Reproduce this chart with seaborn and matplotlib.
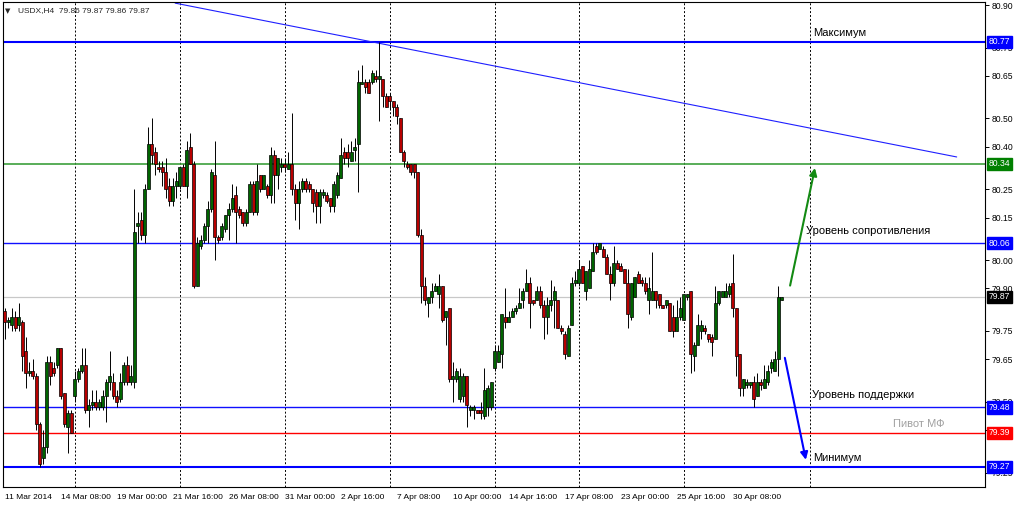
import numpy as np
import pandas as pd
import matplotlib
matplotlib.use("Agg")
import matplotlib.pyplot as plt
import matplotlib.transforms as mtransforms
import seaborn as sns

# H4 candles of USDX (open, high, low, close)
opens = [79.82, 79.78, 79.77, 79.80, 79.77, 79.78, 79.68, 79.60, 79.61, 79.59,
         79.42, 79.30, 79.34, 79.64, 79.62, 79.63, 79.69, 79.53, 79.41, 79.46,
         79.52, 79.58, 79.61, 79.63, 79.47, 79.49, 79.50, 79.48, 79.48, 79.52,
         79.57, 79.57, 79.52, 79.51, 79.57, 79.63, 79.57, 79.57, 80.12, 80.14,
         80.09, 80.25, 80.41, 80.38, 80.33, 80.33, 80.31, 80.26, 80.21, 80.26,
         80.26, 80.33, 80.26, 80.40, 80.34, 79.91, 80.05, 80.07, 80.12, 80.18,
         80.30, 80.08, 80.08, 80.11, 80.16, 80.18, 80.23, 80.18, 80.17, 80.13,
         80.17, 80.27, 80.17, 80.30, 80.25, 80.26, 80.23, 80.37, 80.30, 80.33,
         80.34, 80.32, 80.34, 80.25, 80.20, 80.25, 80.28, 80.27, 80.25, 80.24,
         80.19, 80.23, 80.23, 80.22, 80.19, 80.23, 80.29, 80.38, 80.38, 80.35,
         80.39, 80.41, 80.62, 80.63, 80.63, 80.63, 80.65, 80.64, 80.64, 80.58,
         80.58, 80.56, 80.54, 80.50, 80.38, 80.34, 80.34, 80.34, 80.31, 80.09,
         79.91, 79.85, 79.87, 79.89, 79.88, 79.91, 79.80, 79.83, 79.58, 79.58,
         79.51, 79.52, 79.59, 79.47, 79.47, 79.47, 79.47, 79.45, 79.48, 79.48,
         79.62, 79.64, 79.67, 79.80, 79.78, 79.80, 79.82, 79.83, 79.86, 79.89,
         79.92, 79.86, 79.86, 79.89, 79.84, 79.80, 79.84, 79.86, 79.86, 79.76,
         79.74, 79.66, 79.77, 79.92, 79.92, 79.98, 79.89, 79.90, 79.96, 80.05,
         80.04, 80.04, 80.01, 79.95, 79.92, 79.99, 79.98, 79.97, 79.92, 79.80,
         79.87, 79.95, 79.93, 79.92, 79.86, 79.86, 79.89, 79.88, 79.84, 79.84,
         79.85, 79.80, 79.75, 79.80, 79.79, 79.87, 79.89, 79.66, 79.70, 79.75,
         79.76, 79.74, 79.73, 79.72, 79.85, 79.87, 79.87, 79.88, 79.92, 79.83,
         79.67, 79.55, 79.56, 79.56, 79.57, 79.52, 79.57, 79.55, 79.57, 79.62,
         79.61, 79.65, 79.86]
highs = [79.83, 79.80, 79.83, 79.82, 79.85, 79.79, 79.73, 79.64, 79.65, 79.60,
         79.43, 79.40, 79.66, 79.66, 79.64, 79.69, 79.69, 79.53, 79.47, 79.47,
         79.61, 79.62, 79.69, 79.69, 79.51, 79.54, 79.54, 79.51, 79.54, 79.58,
         79.68, 79.60, 79.54, 79.60, 79.64, 79.66, 79.63, 80.25, 80.17, 80.17,
         80.27, 80.47, 80.50, 80.40, 80.35, 80.35, 80.36, 80.29, 80.29, 80.31,
         80.33, 80.34, 80.42, 80.45, 80.35, 80.08, 80.09, 80.13, 80.21, 80.32,
         80.42, 80.09, 80.13, 80.16, 80.20, 80.27, 80.26, 80.19, 80.17, 80.18,
         80.28, 80.28, 80.34, 80.30, 80.30, 80.27, 80.40, 80.39, 80.36, 80.36,
         80.36, 80.38, 80.52, 80.27, 80.28, 80.29, 80.29, 80.28, 80.25, 80.25,
         80.25, 80.25, 80.24, 80.22, 80.28, 80.31, 80.43, 80.40, 80.41, 80.42,
         80.43, 80.67, 80.69, 80.64, 80.64, 80.67, 80.67, 80.77, 80.64, 80.59,
         80.59, 80.56, 80.55, 80.50, 80.39, 80.35, 80.34, 80.34, 80.31, 80.11,
         79.94, 79.87, 79.92, 79.92, 79.95, 79.91, 79.82, 79.83, 79.64, 79.62,
         79.62, 79.60, 79.59, 79.49, 79.49, 79.47, 79.50, 79.62, 79.56, 79.57,
         79.70, 79.70, 79.81, 79.90, 79.82, 79.83, 79.84, 79.90, 79.90, 79.97,
         79.94, 79.86, 79.91, 79.91, 79.86, 79.87, 79.93, 79.91, 79.86, 79.77,
         79.75, 79.77, 79.94, 79.96, 80.00, 79.98, 79.96, 80.00, 80.06, 80.06,
         80.06, 80.05, 80.02, 79.98, 80.05, 80.00, 79.99, 79.97, 79.97, 79.92,
         79.94, 79.96, 79.94, 79.94, 79.94, 80.03, 79.89, 79.88, 79.84, 79.86,
         79.85, 79.84, 79.86, 79.87, 79.88, 79.88, 79.89, 79.71, 79.81, 79.79,
         79.77, 79.74, 79.74, 79.91, 79.89, 79.89, 79.92, 79.92, 80.02, 79.83,
         79.67, 79.58, 79.58, 79.57, 79.59, 79.60, 79.58, 79.63, 79.63, 79.65,
         79.68, 79.91, 79.87]
lows = [79.72, 79.76, 79.75, 79.75, 79.75, 79.61, 79.55, 79.59, 79.58, 79.40,
        79.27, 79.28, 79.32, 79.56, 79.59, 79.62, 79.51, 79.41, 79.32, 79.39,
        79.50, 79.57, 79.60, 79.46, 79.41, 79.47, 79.47, 79.47, 79.47, 79.43,
        79.54, 79.51, 79.48, 79.50, 79.56, 79.56, 79.56, 79.55, 80.06, 80.07,
        80.06, 80.25, 80.34, 80.30, 80.31, 80.26, 80.22, 80.19, 80.19, 80.22,
        80.25, 80.26, 80.22, 80.34, 79.90, 79.91, 80.04, 80.06, 80.06, 80.17,
        80.00, 80.06, 80.07, 80.10, 80.07, 80.17, 80.06, 80.15, 80.12, 80.12,
        80.17, 80.16, 80.16, 80.24, 80.25, 80.22, 80.20, 80.20, 80.25, 80.31,
        80.31, 80.32, 80.23, 80.14, 80.11, 80.24, 80.24, 80.24, 80.17, 80.13,
        80.13, 80.22, 80.20, 80.17, 80.17, 80.22, 80.29, 80.34, 80.33, 80.35,
        80.35, 80.24, 80.62, 80.59, 80.59, 80.62, 80.63, 80.49, 80.54, 80.54,
        80.53, 80.51, 80.48, 80.38, 80.33, 80.32, 80.30, 80.29, 80.08, 79.85,
        79.84, 79.80, 79.85, 79.89, 79.83, 79.78, 79.70, 79.57, 79.50, 79.57,
        79.50, 79.50, 79.41, 79.45, 79.44, 79.46, 79.44, 79.44, 79.45, 79.47,
        79.61, 79.64, 79.62, 79.76, 79.78, 79.80, 79.81, 79.83, 79.83, 79.89,
        79.76, 79.84, 79.86, 79.83, 79.72, 79.74, 79.82, 79.76, 79.76, 79.74,
        79.65, 79.66, 79.77, 79.91, 79.91, 79.92, 79.86, 79.90, 79.96, 80.02,
        80.04, 80.01, 79.95, 79.86, 79.91, 79.97, 79.96, 79.92, 79.76, 79.79,
        79.87, 79.92, 79.91, 79.88, 79.81, 79.86, 79.83, 79.83, 79.83, 79.83,
        79.75, 79.73, 79.75, 79.79, 79.79, 79.86, 79.60, 79.61, 79.70, 79.72,
        79.74, 79.71, 79.66, 79.72, 79.84, 79.87, 79.87, 79.87, 79.80, 79.59,
        79.52, 79.52, 79.55, 79.55, 79.48, 79.52, 79.54, 79.55, 79.56, 79.60,
        79.61, 79.59, 79.86]
closes = [79.78, 79.79, 79.80, 79.76, 79.80, 79.66, 79.60, 79.61, 79.59, 79.42,
          79.28, 79.34, 79.64, 79.59, 79.60, 79.69, 79.52, 79.42, 79.46, 79.39,
          79.58, 79.61, 79.63, 79.47, 79.49, 79.50, 79.48, 79.50, 79.52, 79.57,
          79.59, 79.52, 79.50, 79.57, 79.63, 79.57, 79.59, 80.10, 80.13, 80.09,
          80.25, 80.41, 80.37, 80.34, 80.32, 80.31, 80.25, 80.21, 80.26, 80.28,
          80.33, 80.26, 80.39, 80.34, 79.91, 80.06, 80.07, 80.12, 80.18, 80.31,
          80.08, 80.07, 80.12, 80.16, 80.18, 80.22, 80.17, 80.16, 80.13, 80.17,
          80.27, 80.17, 80.28, 80.25, 80.30, 80.23, 80.37, 80.30, 80.36, 80.34,
          80.33, 80.34, 80.25, 80.20, 80.25, 80.28, 80.25, 80.25, 80.20, 80.19,
          80.24, 80.24, 80.21, 80.19, 80.27, 80.30, 80.37, 80.36, 80.36, 80.38,
          80.40, 80.63, 80.63, 80.61, 80.59, 80.66, 80.64, 80.65, 80.58, 80.54,
          80.56, 80.54, 80.51, 80.38, 80.35, 80.33, 80.31, 80.31, 80.09, 79.91,
          79.86, 79.87, 79.89, 79.91, 79.91, 79.79, 79.82, 79.58, 79.59, 79.61,
          79.59, 79.59, 79.49, 79.48, 79.48, 79.46, 79.46, 79.54, 79.55, 79.57,
          79.68, 79.68, 79.81, 79.78, 79.80, 79.82, 79.83, 79.85, 79.89, 79.92,
          79.85, 79.85, 79.89, 79.84, 79.80, 79.84, 79.86, 79.89, 79.76, 79.75,
          79.67, 79.76, 79.92, 79.93, 79.97, 79.92, 79.96, 79.97, 80.03, 80.03,
          80.06, 80.01, 79.95, 79.92, 79.99, 79.97, 79.96, 79.92, 79.81, 79.92,
          79.94, 79.92, 79.92, 79.89, 79.90, 79.89, 79.86, 79.84, 79.83, 79.86,
          79.75, 79.75, 79.80, 79.83, 79.88, 79.88, 79.67, 79.70, 79.77, 79.77,
          79.75, 79.72, 79.71, 79.85, 79.89, 79.89, 79.89, 79.91, 79.83, 79.66,
          79.55, 79.58, 79.57, 79.57, 79.51, 79.57, 79.56, 79.58, 79.61, 79.64,
          79.65, 79.87, 79.87]

# time axis labels (one every 16 bars) and weekly dotted separators
time_labels = ['11 Mar 2014', '14 Mar 08:00', '19 Mar 00:00', '21 Mar 16:00',
               '26 Mar 08:00', '31 Mar 00:00', '2 Apr 16:00', '7 Apr 08:00',
               '10 Apr 00:00', '14 Apr 16:00', '17 Apr 08:00', '23 Apr 00:00',
               '25 Apr 16:00', '30 Apr 08:00']
time_ticks = list(range(0, 16 * len(time_labels), 16))
week_bars = [20, 50, 80, 110, 140, 164, 194, 230]

price_ticks = [80.90, 80.75, 80.65, 80.50, 80.40, 80.25, 80.15, 80.00,
               79.90, 79.75, 79.65, 79.50, 79.40, 79.25]

# horizontal levels drawn on the chart
level_prices = [80.77, 80.34, 80.06, 79.87, 79.48, 79.39, 79.27]
level_colors = ['#0000ff', '#3c9f3c', '#1010ff', '#c8c8c8', '#1010ff', '#ff0000', '#0000ff']
level_widths = [1.5, 1.2, 1.0, 0.9, 1.0, 1.0, 1.5]
tag_colors = ['#0000ff', '#008000', '#0000ff', '#000000', '#0000ff', '#ff0000', '#0000ff']

# trend line through the top
trend_bars = [48.7, 272.0]
trend_prices = [80.907, 80.364]

# arrows (start bar, start price, end bar, end price)
arrow_up = [224.4, 79.91, 231.5, 80.325]
arrow_down = [222.9, 79.655, 228.9, 79.295]

notes = ['Максимум', 'Уровень сопротивления', 'Уровень поддержки', 'Пивот МФ', 'Минимум']
note_bars = [230.9, 228.9, 230.7, 253.8, 230.9]
note_prices = [80.80, 80.103, 79.524, 79.42, 79.30]
note_colors = ['black', 'black', 'black', '#a0a0a0', 'black']

sns.set_style('white')
plt.rcParams['font.family'] = ['Liberation Sans', 'DejaVu Sans']

df = pd.DataFrame({'open': opens, 'high': highs, 'low': lows, 'close': closes})
df['bar'] = np.arange(len(df))
up = df['close'] >= df['open']
body = (df['close'] - df['open']).to_numpy()
body = np.where(np.abs(body) < 0.003, 0.003, body)

fig = plt.figure(figsize=(10.24, 5.05), dpi=100)
ax = fig.add_axes([3 / 1024, 18 / 505, 982 / 1024, 485 / 505])
ax.set_xlim(-0.49, 280.09)
ax.set_ylim(79.199, 80.911)

# weekly dotted separators
ax.vlines(week_bars, 79.199, 80.911, colors='black', linestyles=(0, (2, 2)), lw=0.7, zorder=1)

# levels
for p, c, w in zip(level_prices, level_colors, level_widths):
    ax.axhline(p, color=c, lw=w, zorder=2)

sns.lineplot(x=trend_bars, y=trend_prices, ax=ax, color='#1f1fff', lw=0.8, zorder=2)

# candles
ax.vlines(df['bar'], df['low'], df['high'], color='black', lw=0.7, zorder=3)
ax.bar(df['bar'], body, bottom=df['open'], width=0.75,
       color=np.where(up, '#006400', '#b80000'), edgecolor='black', linewidth=0.5, zorder=4)

# arrows
ax.annotate('', xy=(arrow_up[2], arrow_up[3]), xytext=(arrow_up[0], arrow_up[1]),
            arrowprops=dict(arrowstyle='-|>', color='#138a13', lw=1.5, mutation_scale=11,
                            shrinkA=0, shrinkB=0), zorder=5)
ax.annotate('', xy=(arrow_down[2], arrow_down[3]), xytext=(arrow_down[0], arrow_down[1]),
            arrowprops=dict(arrowstyle='-|>', color='#0000ff', lw=1.5, mutation_scale=11,
                            shrinkA=0, shrinkB=0), zorder=5)

for t, x, y, c in zip(notes, note_bars, note_prices, note_colors):
    ax.text(x, y, t, color=c, fontsize=8, ha='left', va='center', zorder=6)

# axes styling
for s in ax.spines.values():
    s.set_color('black')
    s.set_linewidth(0.8)
ax.yaxis.tick_right()
ax.set_yticks(price_ticks)
ax.set_yticklabels([f'{v:.2f}' for v in price_ticks])
ax.tick_params(axis='y', length=3, width=0.7, labelsize=6.2, pad=2, colors='black')
ax.set_xticks(time_ticks)
ax.set_xticklabels(time_labels)
ax.tick_params(axis='x', length=4, width=0.7, labelsize=6, pad=1, colors='black')
for lbl in ax.get_xticklabels():
    lbl.set_ha('left')
ax.grid(False)

# price tags on the right scale (they cover the nearby scale labels, as in MT4)
trans = mtransforms.blended_transform_factory(ax.transAxes, ax.transData)
for p, c in zip(level_prices, tag_colors):
    ax.text(1.0 + 4 / 982, p, f'{p:.2f}', transform=trans, color='white', fontsize=6.2,
            ha='left', va='center', clip_on=False, zorder=10,
            bbox=dict(boxstyle='square,pad=0.2', fc=c, ec=c))

# header
fig.text(5 / 1024, 1 - 11 / 505, '▼', fontsize=5, family=['DejaVu Sans'], va='center')
fig.text(18 / 1024, 1 - 11 / 505, 'USDX,H4  79.86 79.87 79.86 79.87', fontsize=6.0, va='center')

fig.savefig('out.png', dpi=100, facecolor='white')
